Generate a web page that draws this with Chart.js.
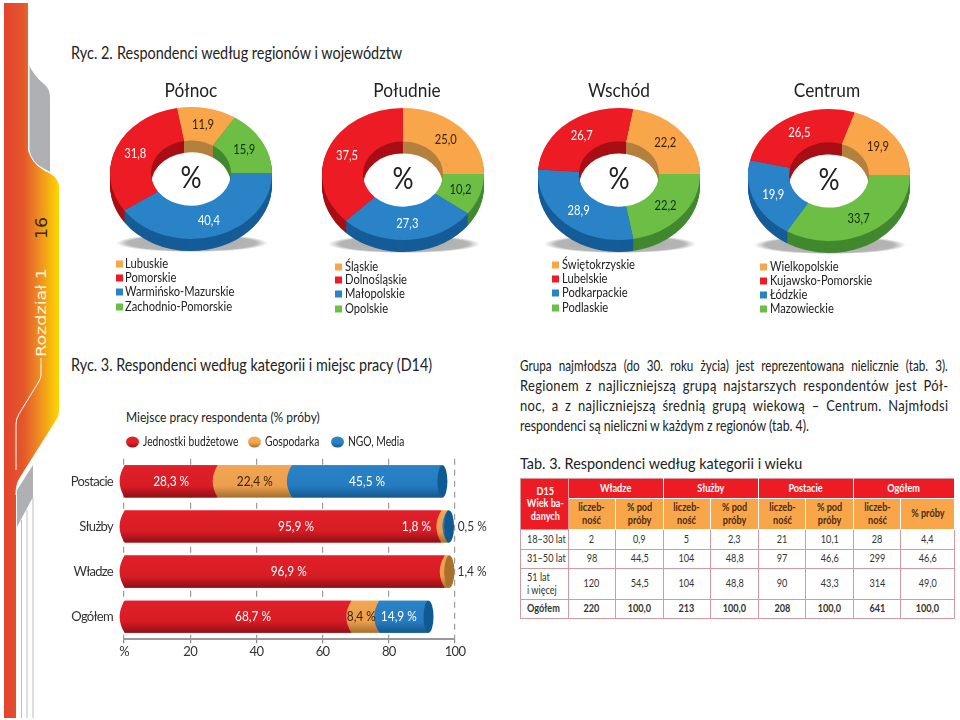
<!DOCTYPE html>
<html lang="pl">
<head>
<meta charset="utf-8">
<title>Ryc. 2, Ryc. 3, Tab. 3</title>
<script src="https://cdn.jsdelivr.net/npm/chart.js"></script>
<style>
  html, body { margin: 0; padding: 0; background: #fff; }
  body { width: 960px; height: 720px; position: relative; overflow: hidden; font-family: Lato, "Open Sans", sans-serif; color: #222; }
  .t { position: absolute; white-space: nowrap; line-height: 1; transform-origin: left center; transform: translateY(-50%) scaleX(var(--sx, .88)); }
  .c { transform-origin: center center; transform: translate(-50%, -50%) scaleX(var(--sx, .91)); }
  canvas { position: absolute; }
  .sq { position: absolute; width: 7px; height: 7px; transform: translateY(-50%); }
  .just { position: absolute; left: 520px; font-size: 15.4px; line-height: 1; text-align: justify; text-align-last: justify; transform-origin: left center; }
  .dot { position: absolute; width: 13px; height: 11px; border-radius: 50%; transform: translateY(-50%); }
  #tab { position: absolute; left: 520px; top: 478px; width: 435px; border-collapse: collapse; table-layout: fixed; font-size: 12px; color: #333; text-align: center; }
  #tab td, #tab th { border: 1px solid #d59aa0; padding: 0; line-height: 1.05; font-weight: normal; overflow: visible; }
  #tab th.r { background: #ed1c24; color: #fff; font-weight: bold; }
  #tab th.o { background: #f9a54a; color: #4a2c10; font-weight: bold; border-color: #fff; }
  #tab .b td { font-weight: bold; }
  .n { display: inline-block; white-space: nowrap; transform: scaleX(.76); }
  .l { transform-origin: left center; }
</style>
</head>
<body>

<svg width="70" height="720" style="position:absolute;left:0;top:0">
  <defs>
    <linearGradient id="side" gradientUnits="userSpaceOnUse" x1="4" y1="0" x2="59" y2="0">
      <stop offset="0" stop-color="#e4432d"/>
      <stop offset="0.35" stop-color="#e4572b"/>
      <stop offset="0.65" stop-color="#ee8f22"/>
      <stop offset="1" stop-color="#fdd800"/>
    </linearGradient>
  </defs>
  <path d="M29 65 Q34 76 44 84 Q50 89 50 97 L50 172 L29 160 Z" fill="#aeb0b3"/>
  <path d="M33 465 L33 497 L17 527 L17 490 Z" fill="#aeb0b3"/>
  <path d="M21.5 520 V718 M27 510 V718 M33 497 V718" stroke="#bcbdc0" stroke-width="1" fill="none"/>
  <path d="M4 3 H28 V150 Q30 162 44 170 Q59 176 59 186 V410 Q59 417 55 423 L20 478 Q16 484 16 495 V718 H4 Z" fill="url(#side)"/>
  <path d="M29 65 V150 Q31 162 44 170 Q58 176 59 184 M59 416 L20 478 Q16 484 16 495" stroke="#fff" stroke-width="1" fill="none"/>
  <path d="M41 358 V375 Q41 378 38 383 L19 414 Q16 419 16 424 V470" stroke="#fff" stroke-width="1" fill="none"/>
  <text transform="translate(46,357) rotate(-90)" font-family="DejaVu Sans" font-size="14" fill="#fff6d8" textLength="89" lengthAdjust="spacingAndGlyphs">Rozdział 1</text>
  <text transform="translate(47,239) rotate(-90)" font-family="DejaVu Sans" font-size="16" fill="#3a2a10" textLength="22" lengthAdjust="spacingAndGlyphs">16</text>
</svg>

<div class="t" style="left:71px;top:53px;font-size:16.4px">Ryc. 2.</div>
<div class="t" style="left:117px;top:53px;font-size:16.4px">Respondenci według regionów i województw</div>
<div class="t" style="left:71px;top:365px;font-size:16.4px;--sx:.876">Ryc. 3. Respondenci według kategorii i miejsc pracy (D14)</div>
<div class="t" style="left:126px;top:417px;font-size:14px;--sx:.86">Miejsce pracy respondenta (% próby)</div>

<div class="just" style="top:358px;width:563px;transform:scaleX(.76)">Grupa najmłodsza (do 30. roku życia) jest reprezentowana nielicznie (tab. 3).</div>
<div class="just" style="top:378px;width:510px;transform:scaleX(.84);letter-spacing:.4px">Regionem z najliczniejszą grupą najstarszych respondentów jest Pół-</div>
<div class="just" style="top:398px;width:510px;transform:scaleX(.84);letter-spacing:.4px">noc, a z najliczniejszą średnią grupą wiekową – Centrum. Najmłodsi</div>
<div class="t" style="left:520px;top:425.5px;font-size:15.4px;--sx:.8">respondenci są nieliczni w każdym z regionów (tab. 4).</div>
<div class="t" style="left:520px;top:463px;font-size:16px;--sx:.9">Tab. 3. Respondenci według kategorii i wieku</div>

<canvas id="ringN" width="200" height="200" style="left:91px;top:72.5px"></canvas>
<canvas id="ringS" width="200" height="200" style="left:303px;top:74px"></canvas>
<canvas id="ringE" width="200" height="200" style="left:518.5px;top:74px"></canvas>
<canvas id="ringC" width="200" height="200" style="left:729px;top:75px"></canvas>
<canvas id="bars" width="445" height="220" style="left:60px;top:440px"></canvas>

<table id="tab"></table>

<script>
// ryc. 2 - regiony, wojewodztwa w kolejnosci z legendy
const polnocNames = ['Lubuskie', 'Pomorskie', 'Warmińsko-Mazurskie', 'Zachodnio-Pomorskie'];
const polnocValues = [11.9, 31.8, 40.4, 15.9];
const poludnieNames = ['Śląskie', 'Dolnośląskie', 'Małopolskie', 'Opolskie'];
const poludnieValues = [25.0, 37.5, 27.3, 10.2];
const wschodNames = ['Świętokrzyskie', 'Lubelskie', 'Podkarpackie', 'Podlaskie'];
const wschodValues = [22.2, 26.7, 28.9, 22.2];
const centrumNames = ['Wielkopolskie', 'Kujawsko-Pomorskie', 'Łódzkie', 'Mazowieckie'];
const centrumValues = [19.9, 26.5, 19.9, 33.7];

// ryc. 3 - miejsce pracy
const workCategories = ['Postacie', 'Służby', 'Władze', 'Ogółem'];
const workSeries = ['Jednostki budżetowe', 'Gospodarka', 'NGO, Media'];
const budzetValues = [28.3, 95.9, 96.9, 68.7];
const gospodarkaValues = [22.4, 1.8, 1.4, 8.4];
const ngoValues = [45.5, 0.5, 0, 14.9];
const xTickLabels = ['%', '20', '40', '60', '80', '100'];

// tab. 3
const tabGroups = ['Władze', 'Służby', 'Postacie', 'Ogółem'];
const tabAges = ['18–30 lat', '31–50 lat', '51 lat<br>i więcej', 'Ogółem'];
const wladzeCounts = ['2', '98', '120', '220'];
const wladzePct = ['0,9', '44,5', '54,5', '100,0'];
const sluzbyCounts = ['5', '104', '104', '213'];
const sluzbyPct = ['2,3', '48,8', '48,8', '100,0'];
const postacieCounts = ['21', '97', '90', '208'];
const postaciePct = ['10,1', '46,6', '43,3', '100,0'];
const ogolemCounts = ['28', '299', '314', '641'];
const ogolemPct = ['4,4', '46,6', '49,0', '100,0'];

const ORANGE = '#f9a54a', RED = '#ed1c24', BLUE = '#2a82c7', GREEN = '#6dbe45';
const legendColors = [ORANGE, RED, BLUE, GREEN];
const wallColors = ['#b5803f', '#a80f15', '#155c98', '#41882f'];
const ringText = ['#3a2208', '#fff', '#fff', '#10300a'];
const SQUASH = 0.815, DEPTH = 12;
const TEXT_FONT = 'Lato, "Open Sans", sans-serif';
const comma = v => v.toFixed(1).replace('.', ',');

function addText(x, y, txt, size, sx) {
  const d = document.createElement('div');
  d.className = 't';
  d.style.cssText = 'left:' + x + 'px;top:' + y + 'px;font-size:' + size + 'px;--sx:' + sx;
  d.textContent = txt;
  document.body.appendChild(d);
  return d;
}

// tekst na canvasie zwezony w poziomie, zeby przypominal oryginalny krój
function narrowText(ctx, txt, x, y, sx) {
  ctx.save();
  ctx.translate(x, y);
  ctx.scale(sx, 1);
  ctx.fillText(txt, 0, 0);
  ctx.restore();
}

// obrys 3D: sploszczony pierscien + warstwy ciemniejszego koloru pod spodem
const ringPlugin = {
  id: 'ring3d',
  beforeDatasetsDraw(chart) {
    const ctx = chart.ctx;
    const arcs = chart.getDatasetMeta(0).data;
    const cx = arcs[0].x, cy = arcs[0].y;
    const R = arcs[0].outerRadius;

    // cien pod pierscieniem
    ctx.save();
    ctx.translate(cx + 1, cy + 70);
    ctx.scale(1, 0.12);
    const g = ctx.createRadialGradient(0, 0, 0, 0, 0, R - 5);
    g.addColorStop(0, '#a9a9a9');
    g.addColorStop(0.85, '#b5b5b5');
    g.addColorStop(1, 'rgba(190,190,190,0)');
    ctx.fillStyle = g;
    ctx.beginPath();
    ctx.arc(0, 0, R - 5, 0, Math.PI * 2);
    ctx.fill();
    ctx.restore();

    for (let d = DEPTH; d >= 1; d--) {
      arcs.forEach((arc, i) => {
        const p = arc.getProps(['startAngle', 'endAngle', 'innerRadius', 'outerRadius']);
        ctx.save();
        ctx.translate(cx, cy + d);
        ctx.scale(1, SQUASH);
        ctx.fillStyle = chart.data.datasets[0].wall[i];
        ctx.beginPath();
        ctx.arc(0, 0, p.outerRadius, p.startAngle, p.endAngle);
        ctx.arc(0, 0, p.innerRadius, p.endAngle, p.startAngle, true);
        ctx.closePath();
        ctx.fill();
        ctx.restore();
      });
    }

    ctx.save();
    ctx.translate(0, cy);
    ctx.scale(1, SQUASH);
    ctx.translate(0, -cy);
  },
  afterDatasetsDraw(chart) {
    const ctx = chart.ctx;
    ctx.restore();
    const ds = chart.data.datasets[0];
    const arcs = chart.getDatasetMeta(0).data;
    const cx = arcs[0].x, cy = arcs[0].y;
    ctx.save();
    ctx.textAlign = 'center';
    ctx.textBaseline = 'middle';
    arcs.forEach((arc, i) => {
      const c = arc.getCenterPoint();
      ctx.font = '14px ' + TEXT_FONT;
      ctx.fillStyle = ds.ink[i];
      narrowText(ctx, comma(ds.data[i]), c.x, cy + (c.y - cy) * SQUASH, 0.8);
    });
    ctx.font = '31px ' + TEXT_FONT;
    ctx.fillStyle = '#222';
    narrowText(ctx, '%', cx, cy + 5, 0.85);
    ctx.restore();
  }
};

// kolejnosc wycinkow zgodnie z ruchem wskazowek: pomaranczowy, zielony, niebieski, czerwony
const sliceOrder = [0, 3, 2, 1];
function ring(id, names, values, rotation) {
  new Chart(document.getElementById(id), {
    type: 'doughnut',
    data: {
      labels: sliceOrder.map(i => names[i]),
      datasets: [{
        data: sliceOrder.map(i => values[i]),
        backgroundColor: sliceOrder.map(i => legendColors[i]),
        wall: sliceOrder.map(i => wallColors[i]),
        ink: sliceOrder.map(i => ringText[i]),
        borderWidth: 0
      }]
    },
    options: {
      responsive: false,
      animation: false,
      rotation: rotation,
      cutout: '49.4%',
      layout: { padding: 19 },
      plugins: { legend: { display: false }, tooltip: { enabled: false } }
    },
    plugins: [ringPlugin]
  });
}
ring('ringN', polnocNames, polnocValues, -10);
ring('ringS', poludnieNames, poludnieValues, 0);
ring('ringE', wschodNames, wschodValues, 10);
ring('ringC', centrumNames, centrumValues, 18.4);

function regionLegend(names, squareX, textX, ys) {
  names.forEach((name, i) => {
    const s = document.createElement('div');
    s.className = 'sq';
    s.style.cssText = 'left:' + squareX + 'px;top:' + ys[i] + 'px;background:' + legendColors[i];
    document.body.appendChild(s);
    addText(textX, ys[i], name, 12.6, 0.886);
  });
}
regionLegend(polnocNames, 116, 125, [264, 278, 292, 306.5]);
regionLegend(poludnieNames, 335, 345, [266.5, 280, 294, 308.5]);
regionLegend(wschodNames, 552, 562, [265, 279, 293, 307.5]);
regionLegend(centrumNames, 760, 770, [266.5, 280.5, 294.5, 308.5]);

[['Północ', 191], ['Południe', 407], ['Wschód', 619], ['Centrum', 827]].forEach(r => {
  addText(r[1], 89, r[0], 19, 0.91).className = 't c';
});

// ryc. 3
const barTop = [['#e0202a', '#d81c24', '#8f1015'], ['#f2a552', '#eb9f4c', '#a3702f'], ['#2a82c7', '#257bbf', '#15588f']];
const barCaps = ['#a80f15', '#a8702b', '#0f5a92'];
const barShift = [[0, 13, 4, 15], [0, -28, 25, -4], [0, 24, 0, -5]];
const barInk = [['#fff', '#fff', '#fff', '#fff'], ['#3a2208', '#fff', '#333', '#3a2208'], ['#fff', '#333', '#fff', '#fff']];

const cylinderPlugin = {
  id: 'cylinder',
  beforeDraw(chart) {
    chart.ctx.letterSpacing = '-0.7px';
  },
  afterDatasetsDraw(chart) {
    const ctx = chart.ctx;
    const rx = 5;
    chart.data.labels.forEach((label, c) => {
      let last = null;
      chart.data.datasets.forEach((ds, s) => {
        const bar = chart.getDatasetMeta(s).data[c];
        if (!ds.data[c]) return;
        const p = bar.getProps(['x', 'y', 'base', 'height']);
        const top = p.y - p.height / 2, bottom = p.y + p.height / 2;
        const g = ctx.createLinearGradient(0, top, 0, bottom);
        g.addColorStop(0, barTop[s][0]);
        g.addColorStop(0.65, barTop[s][1]);
        g.addColorStop(1, barTop[s][2]);
        ctx.fillStyle = g;
        ctx.beginPath();
        ctx.moveTo(p.base, top);
        ctx.quadraticCurveTo(p.base - rx * 2, p.y, p.base, bottom);
        ctx.lineTo(p.x, bottom);
        ctx.quadraticCurveTo(p.x - rx * 2, p.y, p.x, top);
        ctx.closePath();
        ctx.fill();
        last = { s: s, p: p };
      });
      if (last) {
        ctx.fillStyle = barCaps[last.s];
        ctx.beginPath();
        ctx.ellipse(last.p.x, last.p.y, rx, last.p.height / 2, 0, 0, Math.PI * 2);
        ctx.fill();
      }
    });
    ctx.save();
    ctx.letterSpacing = '0px';
    ctx.textAlign = 'center';
    ctx.textBaseline = 'middle';
    ctx.font = '14px ' + TEXT_FONT;
    chart.data.datasets.forEach((ds, s) => {
      chart.getDatasetMeta(s).data.forEach((bar, c) => {
        if (!ds.data[c]) return;
        const p = bar.getProps(['x', 'y', 'base']);
        ctx.fillStyle = barInk[s][c];
        narrowText(ctx, comma(ds.data[c]) + ' %', (p.x + p.base) / 2 + barShift[s][c], p.y, 0.85);
      });
    });
    ctx.restore();
  }
};

new Chart(document.getElementById('bars'), {
  type: 'bar',
  data: {
    labels: workCategories,
    datasets: [
      { label: workSeries[0], data: budzetValues, backgroundColor: RED },
      { label: workSeries[1], data: gospodarkaValues, backgroundColor: ORANGE },
      { label: workSeries[2], data: ngoValues, backgroundColor: BLUE }
    ]
  },
  options: {
    indexAxis: 'y',
    responsive: false,
    animation: false,
    barPercentage: 0.71,
    categoryPercentage: 1,
    layout: { padding: { top: 9.3, right: 50, left: 0, bottom: 0 } },
    plugins: { legend: { display: false }, tooltip: { enabled: false } },
    scales: {
      x: {
        stacked: true,
        min: 0,
        max: 100,
        afterFit(s) { s.height = 20.7; },
        ticks: {
          stepSize: 20,
          maxRotation: 0,
          padding: 1,
          color: '#333',
          font: { family: TEXT_FONT, size: 13 },
          callback: (v, i) => xTickLabels[i]
        },
        grid: { color: '#9a9a9a', lineWidth: 1.2, tickColor: '#888', tickLength: 4 },
        border: { color: '#999', width: 2, dash: [6, 5] }
      },
      y: {
        stacked: true,
        afterFit(s) { s.width = 64; },
        grid: { display: false, drawTicks: false },
        border: { display: false },
        ticks: { padding: 11, color: '#333', font: { family: TEXT_FONT, size: 13 } }
      }
    }
  },
  plugins: [cylinderPlugin]
});

// legenda ryc. 3
const dotX = [126, 248, 331], dotTextX = [143, 265, 348], dotColors = [['#e0202a', '#8f1015'], ['#f2a552', '#a3702f'], ['#2a82c7', '#15588f']];
workSeries.forEach((name, i) => {
  const d = document.createElement('div');
  d.className = 'dot';
  d.style.left = dotX[i] + 'px';
  d.style.top = '442px';
  d.style.background = 'linear-gradient(' + dotColors[i][0] + ' 55%,' + dotColors[i][1] + ')';
  document.body.appendChild(d);
  addText(dotTextX[i], 442, name, 12.4, 0.83);
});

// tab. 3
const colWidths = [47.5, 47.5, 47.5, 47.5, 47.5, 47.5, 47.5, 47.5, 53.5];
const rowHeights = [19.5, 31, 20, 19.5, 30.5, 19];
const tabCols = [wladzeCounts, wladzePct, sluzbyCounts, sluzbyPct, postacieCounts, postaciePct, ogolemCounts, ogolemPct];
const nar = s => '<span class="n">' + s + '</span>';
let html = '<colgroup>' + colWidths.map(w => '<col style="width:' + w + 'px">').join('') + '</colgroup>';
html += '<tr style="height:' + rowHeights[0] + 'px"><th class="r" rowspan="2" style="border-color:#d59aa0">' + nar('D15<br>Wiek ba-<br>danych') + '</th>' +
  tabGroups.map(g => '<th class="r" colspan="2" style="border-color:#d59aa0 #fff #fff #fff">' + nar(g) + '</th>').join('') + '</tr>';
html += '<tr style="height:' + rowHeights[1] + 'px">' + tabGroups.map((g, i) =>
  '<th class="o">' + nar('liczeb-<br>ność') + '</th><th class="o">' + nar(i === 3 ? '% próby' : '% pod<br>próby') + '</th>').join('') + '</tr>';
tabAges.forEach((age, r) => {
  html += '<tr class="' + (r === 3 ? 'b' : '') + '" style="height:' + rowHeights[r + 2] + 'px"><td style="text-align:left;padding-left:6px"><span class="n l">' + age + '</span></td>' +
    tabCols.map(col => '<td>' + nar(col[r]) + '</td>').join('') + '</tr>';
});
document.getElementById('tab').innerHTML = html;
</script>
</body>
</html>
